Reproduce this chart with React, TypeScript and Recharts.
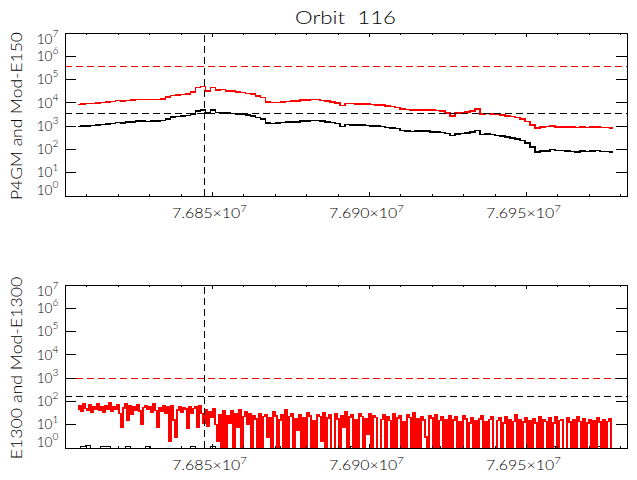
import React from 'react';
import { LineChart, Line, XAxis, YAxis, ReferenceLine, ReferenceArea } from 'recharts';

// ---------- axes ----------
const X_MIN = 76803000;
const X_MAX = 76982000;
const xTicks = [
  76810000, 76820000, 76830000, 76840000, 76850000, 76860000, 76870000, 76880000, 76890000,
  76900000, 76910000, 76920000, 76930000, 76940000, 76950000, 76960000, 76970000, 76980000,
];
const xMajorTicks = [76850000, 76900000, 76950000];
const xMajorText = ['7.685', '7.690', '7.695'];
const xExponent = '7';
const yTicks = [1, 10, 100, 1000, 10000, 100000, 1000000, 10000000];
const yExponents = ['0', '1', '2', '3', '4', '5', '6', '7'];

const markerTime = 76847500;
const topBlackLevel = 3500;
const topRedLevel = 370000;
const botBlackLevel = 160;
const botRedLevel = 1000;

// ---------- top panel data (sample grid) ----------
const topStart = 76807100;
const topStep = 1592;

const topBlack = [
  955, 990, 1040, 1060, 1130, 1160, 1240, 1300, 1420, 1400,
  1490, 1530, 1640, 1650, 1610, 1710, 1650, 1750, 2000, 2420,
  2600, 2780, 2850, 3300, 4400, 5000, 3700, 4800, 3900, 3800,
  3700, 3550, 3400, 3200, 2950, 2650, 2320, 2000, 1400, 1290,
  1350, 1450, 1470, 1520, 1540, 1630, 1650, 1750, 1720, 1620,
  1500, 1450, 1310, 980, 1180, 1140, 1130, 1090, 1080, 1040,
  1010, 950, 880, 845, 800, 660, 635, 600, 620, 610,
  605, 570, 565, 530, 480, 398, 470, 488, 515, 545,
  660, 440, 455, 440, 395, 382, 352, 318, 280, 242,
  190, 126, 76, 84, 88, 100, 90, 89, 84, 83,
  79, 86, 80, 88, 89, 82, 80, 76,
];

const topRed = [
  8500, 8900, 9400, 9500, 10100, 10400, 11000, 11400, 12400, 12200,
  12600, 13100, 13900, 14100, 13700, 14200, 14000, 14500, 17400, 20500,
  21300, 22500, 23800, 29000, 45000, 50000, 32000, 46000, 36000, 37500,
  33000, 32500, 29500, 27500, 25000, 23500, 20000, 17300, 11200, 10200,
  10500, 10700, 11300, 11700, 12300, 12900, 13400, 14200, 13800, 12800,
  12000, 10700, 10000, 7600, 9300, 9400, 9100, 8900, 8700, 8500,
  8300, 7900, 7250, 6900, 6300, 5500, 5250, 5000, 5050, 5000,
  4900, 4800, 4650, 4350, 3650, 2800, 3650, 3900, 4150, 4450,
  5500, 3300, 3480, 3300, 3240, 3020, 2800, 2570, 2340, 2000,
  1580, 1120, 850, 910, 950, 1000, 930, 935, 910, 915,
  890, 915, 890, 935, 910, 890, 870, 830,
];

// ---------- bottom panel data ----------
const botBlack = [
  0.5, 1.2, 1.25, 0.5, 0.5, 1.2, 1.15, 0.5, 0.5, 0.5,
  1.2, 0.5, 0.5, 0.5, 1.2, 0.5, 0.5, 0.5, 0.5, 0.5,
  0.5, 0.5, 0.5, 1.2, 0.5, 0.5, 0.5, 1.2, 0.5, 0.5,
  0.5, 0.5, 0.5, 0.5, 0.5, 0.5, 0.5, 0.5, 0.5, 0.5,
  1.15, 0.5, 0.5, 0.5, 0.5, 0.5, 0.5, 0.5, 0.5, 0.5,
  0.5, 0.5, 0.5, 0.5, 0.5, 1.2, 0.5, 0.5, 0.5, 0.5,
  0.5, 0.5, 0.5, 0.5, 0.5, 0.5, 0.5, 0.5, 0.5, 0.5,
  0.5, 0.5, 1.15, 0.5, 0.5, 0.5, 0.5, 0.5, 0.5, 0.5,
  0.5, 0.5, 0.5, 0.5, 0.5, 0.5, 0.5, 0.5, 0.5, 0.5,
  0.5, 0.5, 0.5, 0.5, 0.5, 1.2, 0.5, 0.5, 0.5, 0.5,
  0.5, 0.5, 0.5, 0.5, 1.2, 0.5, 0.5, 0.5,
];

const botStart = 76807100;
const botStep = 637;

const botRed = [
  // early band
  45, 68, 38, 78, 50, 42, 70, 35, 62, 48,
  76, 40, 58, 33, 66, 45, 85, 38, 60, 44,
  72, 30, 8, 52, 80, 16, 64, 28, 58, 42,
  74, 39, 10, 56, 68, 45, 62, 35, 78, 41,
  8, 55, 38, 66, 30, 58, 2, 64, 16, 3,
  42, 62, 35, 56, 48, 7, 60, 30, 50, 57,
  8, 64,
  // transition
  30, 12, 45, 9, 35, 20, 48, 10, 2, 28,
  0.5, 40, 0.5, 25, 12, 38, 0.5, 30, 8, 44,
  0.5, 22, 35, 10, 30,
  // middle
  0.5, 25, 18, 0.5, 30, 0.5, 22, 28, 3, 20,
  0.5, 35, 24, 0.5, 16, 26, 0.5, 45, 0.5, 22,
  30, 0.5, 18, 6, 27, 0.5, 20, 0.5, 32, 24,
  0.5, 15, 0.5, 28, 22, 2, 34, 0.5, 19, 26,
  0.5, 0.5, 30, 18, 0.5, 24, 8, 36, 0.5, 21,
  27, 0.5, 16, 0.5, 29, 23, 0.5, 18, 4, 31,
  0.5, 25, 20, 0.5, 0.5, 17, 28, 0.5, 22, 15,
  0.5, 30, 0.5, 19, 24, 0.5, 14, 0.5, 26, 20,
  0.5, 33, 0.5, 18, 0.5, 22, 16, 3, 0.5, 25,
  19, 0.5, 28, 0.5, 15, 21, 0.5, 17, 0.5, 24,
  // late
  0.5, 16, 22, 0.5, 14, 0.5, 25, 18, 0.5, 12,
  20, 0.5, 15, 0.5, 18, 24, 0.5, 13, 0.5, 17,
  21, 0.5, 0.5, 15, 19, 0.5, 12, 22, 0.5, 16,
  0.5, 14, 26, 0.5, 17, 0.5, 13, 20, 0.5, 15,
  0.5, 18, 12, 0.5, 23, 0.5, 16, 14, 0.5, 19,
  0.5, 12, 21, 0.5, 15, 17, 0.5, 0.5, 20, 13,
  0.5, 16, 0.5, 22, 14, 0.5, 18, 0.5, 12, 17,
  0.5, 15, 0.5, 20, 13, 0.5, 16, 0.5, 14, 18,
  0.5,
];

const topData = topBlack.map((v, i) => ({ t: topStart + i * topStep, black: v, red: topRed[i] }));
const botBlackData = botBlack.map((v, i) => ({ t: topStart + i * topStep, v }));
const botRedData = botRed.map((v, i) => ({ t: botStart + i * botStep, v }));

// ---------- layout ----------
const W = 637;
const PLOT_W = 562;
const PLOT_H = 163;
const FONT = 'Lato, "Liberation Sans", "DejaVu Sans", sans-serif';
const FW = 300;

const XTick = (props: any) => {
  const { x, y, payload } = props;
  const k = xMajorTicks.indexOf(payload.value);
  const len = k >= 0 ? 4 : 2;
  const top = y - PLOT_H;
  return (
    <g>
      <line x1={x} x2={x} y1={y} y2={y - len} stroke="#000" />
      <line x1={x} x2={x} y1={top} y2={top + len} stroke="#000" />
      {k >= 0 && (
        <text
          x={x - 40.6}
          y={y + 22}
          fontSize={14}
          fontFamily={FONT}
          fontWeight={FW}
          fill="#000"
          textLength={75}
          lengthAdjust="spacingAndGlyphs"
        >
          {xMajorText[k]}×10
          <tspan dy={-6} fontSize={10}>
            {xExponent}
          </tspan>
        </text>
      )}
    </g>
  );
};

const YTick = (props: any) => {
  const { x, y, payload } = props;
  const k = yTicks.indexOf(payload.value);
  let cy = y;
  if (k === yTicks.length - 1) cy = y + 6;
  if (k === 0) cy = y - 6;
  return (
    <g>
      <line x1={x} x2={x + 11} y1={y} y2={y} stroke="#000" />
      <line x1={x + PLOT_W} x2={x + PLOT_W - 11} y1={y} y2={y} stroke="#000" />
      <text
        x={x - 28.3}
        y={cy + 4.7}
        fontSize={13.5}
        fontFamily={FONT}
        fontWeight={FW}
        fill="#000"
        textLength={21.6}
        lengthAdjust="spacingAndGlyphs"
      >
        10
        <tspan dy={-6.8} fontSize={10}>
          {yExponents[k]}
        </tspan>
      </text>
    </g>
  );
};

const axisCommon = {
  stroke: '#000',
};

function Panel(props: {
  top: number;
  xHeight: number;
  children: React.ReactNode;
  data?: any[];
}) {
  return (
    <LineChart
      width={W}
      height={240}
      data={props.data}
      margin={{ top: props.top, right: 10, bottom: 0, left: 0 }}
    >
      <XAxis
        dataKey="t"
        type="number"
        domain={[X_MIN, X_MAX]}
        allowDataOverflow
        ticks={xTicks}
        interval={0}
        tickSize={0}
        tickMargin={0}
        tickLine={false}
        axisLine={axisCommon}
        height={props.xHeight}
        tick={(p: any) => <XTick {...p} />}
      />
      <YAxis
        type="number"
        scale="log"
        domain={[1, 10000000]}
        allowDataOverflow
        ticks={yTicks}
        interval={0}
        tickSize={0}
        tickMargin={0}
        tickLine={false}
        axisLine={axisCommon}
        width={65}
        tick={(p: any) => <YTick {...p} />}
      />
      <ReferenceArea
        x1={X_MIN}
        x2={X_MAX}
        y1={1}
        y2={10000000}
        fill="none"
        fillOpacity={0}
        stroke="#000"
        strokeOpacity={1}
        ifOverflow="visible"
      />
      {props.children}
    </LineChart>
  );
}

export default function App() {
  return (
    <div
      style={{
        position: 'absolute',
        left: 0,
        top: 0,
        width: W,
        height: 480,
        background: '#fff',
        shapeRendering: 'crispEdges',
      }}
    >
      <div style={{ position: 'absolute', left: 0, top: 0 }}>
        <Panel top={33} xHeight={44} data={topData}>
          <Line
            type="step"
            dataKey="black"
            stroke="#000"
            strokeWidth={1.6}
            dot={false}
            isAnimationActive={false}
          />
          <Line
            type="step"
            dataKey="red"
            stroke="#ff0000"
            strokeWidth={1.6}
            dot={false}
            isAnimationActive={false}
          />
          <ReferenceLine y={topRedLevel} stroke="#ff0000" strokeDasharray="7 4" />
          <ReferenceLine y={topBlackLevel} stroke="#000" strokeDasharray="7 4" />
          <ReferenceLine x={markerTime} stroke="#000" strokeDasharray="7 4" />
        </Panel>
      </div>
      <div style={{ position: 'absolute', left: 0, top: 240 }}>
        <Panel top={45} xHeight={32}>
          <Line
            data={botBlackData}
            type="step"
            dataKey="v"
            stroke="#000"
            strokeWidth={1}
            dot={false}
            isAnimationActive={false}
          />
          <Line
            data={botRedData}
            type="step"
            dataKey="v"
            stroke="#ff0000"
            strokeWidth={1.5}
            dot={false}
            isAnimationActive={false}
          />
          <ReferenceLine y={botRedLevel} stroke="#ff0000" strokeDasharray="7 4" />
          <ReferenceLine y={botBlackLevel} stroke="#000" strokeDasharray="7 4" />
          <ReferenceLine x={markerTime} stroke="#000" strokeDasharray="7 4" />
        </Panel>
      </div>
      <svg
        width={W}
        height={480}
        style={{ position: 'absolute', left: 0, top: 0, pointerEvents: 'none' }}
      >
        <text
          x={295}
          y={24}
          fontSize={17}
          fontFamily={FONT}
          fontWeight={FW}
          fill="#000"
          textLength={101}
          lengthAdjust="spacingAndGlyphs"
          style={{ whiteSpace: 'pre' }}
        >
          {'Orbit  116'}
        </text>
        <text
          x={21.7}
          y={200}
          transform="rotate(-90 21.7 200)"
          fontSize={16}
          fontFamily={FONT}
          fontWeight={FW}
          fill="#000"
          textLength={168}
          lengthAdjust="spacingAndGlyphs"
        >
          P4GM and Mod-E150
        </text>
        <text
          x={21.7}
          y={459.3}
          transform="rotate(-90 21.7 459.3)"
          fontSize={16}
          fontFamily={FONT}
          fontWeight={FW}
          fill="#000"
          textLength={182.7}
          lengthAdjust="spacingAndGlyphs"
        >
          E1300 and Mod-E1300
        </text>
      </svg>
    </div>
  );
}
